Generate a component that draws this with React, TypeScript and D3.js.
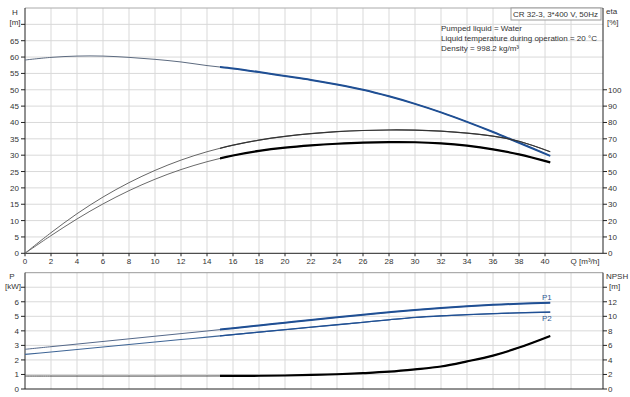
import React from 'react';
import * as d3 from 'd3';

// flow points (m³/h) shared by all curves
const flow = [0, 2, 4, 6, 8, 10, 12, 14, 16, 18, 20, 22, 24, 26, 28, 30, 32, 34, 36, 38, 40.4];

// head H [m]
const head = [59.1, 59.9, 60.3, 60.3, 59.9, 59.3, 58.5, 57.4, 56.5, 55.4, 54.2, 53.0, 51.6, 50.0, 48.0, 45.7, 43.1, 40.2, 37.1, 33.8, 29.8];
// efficiencies eta [%]
const etaUpper = [0, 12.6, 24.2, 34.4, 43.2, 50.7, 57.0, 62.1, 66.1, 69.2, 71.5, 73.2, 74.4, 75.1, 75.4, 75.3, 74.7, 73.5, 71.6, 68.5, 62.1];
const etaLower = [0, 10.8, 21.0, 30.2, 38.3, 45.3, 51.2, 56.0, 59.8, 62.6, 64.6, 66.0, 67.0, 67.7, 68.0, 67.9, 67.2, 65.8, 63.6, 60.5, 55.6];
// power [kW]
const powerP1 = [2.73, 2.91, 3.09, 3.27, 3.45, 3.63, 3.81, 3.99, 4.18, 4.37, 4.56, 4.75, 4.93, 5.1, 5.28, 5.44, 5.57, 5.69, 5.79, 5.87, 5.93];
const powerP2 = [2.38, 2.55, 2.72, 2.89, 3.06, 3.23, 3.4, 3.57, 3.74, 3.91, 4.08, 4.25, 4.42, 4.59, 4.76, 4.92, 5.03, 5.11, 5.18, 5.24, 5.29];
// NPSH [m]
const npsh = [1.78, 1.78, 1.78, 1.78, 1.78, 1.78, 1.79, 1.79, 1.8, 1.82, 1.86, 1.93, 2.03, 2.18, 2.38, 2.7, 3.1, 3.8, 4.6, 5.7, 7.3];

const qTicks = [0, 2, 4, 6, 8, 10, 12, 14, 16, 18, 20, 22, 24, 26, 28, 30, 32, 34, 36, 38, 40];
const hTicks = [0, 5, 10, 15, 20, 25, 30, 35, 40, 45, 50, 55, 60, 65];
const etaTicks = [0, 10, 20, 30, 40, 50, 60, 70, 80, 90, 100];
const pTicks = [0, 1, 2, 3, 4, 5, 6];
const npshTicks = [0, 2, 4, 6, 8, 10, 12];

const infoLines = ['Pumped liquid = Water', 'Liquid temperature during operation = 20 °C', 'Density = 998.2 kg/m³'];
const title = 'CR 32-3, 3*400 V, 50Hz';

const W = 630;
const H = 397;
const font = 'Arial, "Liberation Sans", sans-serif';
const txt = '#333';
const grid = '#d9d9d9';
const axisCol = '#222';
const blue = '#1f4f94';

const App = () => {
  // scales
  const x = d3.scaleLinear().domain([0, 44.46]).range([25, 603]);
  const yH = d3.scaleLinear().domain([0, 75]).range([253.3, 8]);
  const yEta = d3.scaleLinear().domain([0, 150]).range([253.3, 8]);
  const yP = d3.scaleLinear().domain([0, 8]).range([389, 272.7]);
  const yN = d3.scaleLinear().domain([0, 16]).range([389, 272.7]);

  const mk = (vals: number[], y: d3.ScaleLinear<number, number>) =>
    d3.line<number>().x((_, i) => x(flow[i])).y((d) => y(d)).curve(d3.curveCatmullRom.alpha(0.5))(vals) || '';

  const x0 = x.range()[0];
  const x1 = x.range()[1];
  const vGrid = d3.range(2, 43, 2);

  return (
    <svg width={W} height={H} style={{ position: 'absolute', left: 0, top: 0, background: '#fff' }} fontFamily={font}>
      <defs>
        <clipPath id="thick">
          <rect x={x(15)} y={0} width={x1 - x(15)} height={H} />
        </clipPath>
      </defs>

      {/* grids */}
      <g stroke={grid} strokeWidth={1}>
        {vGrid.map((q) => (
          <g key={q}>
            <line x1={x(q)} x2={x(q)} y1={yH(75)} y2={yH(0)} />
            <line x1={x(q)} x2={x(q)} y1={yP(8)} y2={yP(0)} />
          </g>
        ))}
        {d3.range(5, 75, 5).map((v) => (
          <line key={'h' + v} x1={x0} x2={x1} y1={yH(v)} y2={yH(v)} />
        ))}
        {d3.range(1, 8, 1).map((v) => (
          <line key={'p' + v} x1={x0} x2={x1} y1={yP(v)} y2={yP(v)} />
        ))}
      </g>
      <line x1={x0} x2={x1} y1={yH(75)} y2={yH(75)} stroke="#aaa" />
      <line x1={x0} x2={x1} y1={yP(8)} y2={yP(8)} stroke="#999" />

      {/* axes */}
      <g stroke={axisCol} strokeWidth={1}>
        <line x1={x0} x2={x0} y1={yH(75)} y2={yH(0)} />
        <line x1={x1} x2={x1} y1={yH(75)} y2={yH(0)} />
        <line x1={x0} x2={x1} y1={yH(0)} y2={yH(0)} />
        <line x1={x0} x2={x0} y1={yP(8)} y2={yP(0)} />
        <line x1={x1} x2={x1} y1={yP(8)} y2={yP(0)} />
        <line x1={x0} x2={x1} y1={yP(0)} y2={yP(0)} />
        {qTicks.map((q) => (
          <line key={'qt' + q} x1={x(q)} x2={x(q)} y1={yH(0)} y2={yH(0) + 3} />
        ))}
        {d3.range(0, 75, 5).map((v) => (
          <line key={'ht' + v} x1={x0 - 4} x2={x0} y1={yH(v)} y2={yH(v)} />
        ))}
        {etaTicks.map((v) => (
          <line key={'et' + v} x1={x1} x2={x1 + 4} y1={yEta(v)} y2={yEta(v)} />
        ))}
        {d3.range(0, 8, 1).map((v) => (
          <line key={'pt' + v} x1={x0 - 4} x2={x0} y1={yP(v)} y2={yP(v)} />
        ))}
        {d3.range(0, 16, 2).map((v) => (
          <line key={'nt' + v} x1={x1} x2={x1 + 4} y1={yN(v)} y2={yN(v)} />
        ))}
      </g>

      {/* tick labels */}
      <g fontSize={8} fill={txt}>
        {qTicks.map((q) => (
          <text key={'ql' + q} x={x(q)} y={264} textAnchor="middle">{q}</text>
        ))}
        <text x={585} y={264} textAnchor="middle">Q [m³/h]</text>
        {hTicks.map((v) => (
          <text key={'hl' + v} x={19} y={yH(v) + 3} textAnchor="end">{v}</text>
        ))}
        {etaTicks.map((v) => (
          <text key={'el' + v} x={608} y={yEta(v) + 3}>{v}</text>
        ))}
        {pTicks.map((v) => (
          <text key={'pl' + v} x={19} y={yP(v) + 3} textAnchor="end">{v}</text>
        ))}
        {npshTicks.map((v) => (
          <text key={'nl' + v} x={608} y={yN(v) + 3}>{v}</text>
        ))}
        <text x={15} y={15} textAnchor="middle">H</text>
        <text x={15} y={25} textAnchor="middle">[m]</text>
        <text x={606} y={14}>eta</text>
        <text x={607} y={25}>[%]</text>
        <text x={12} y={279} textAnchor="middle">P</text>
        <text x={13} y={289} textAnchor="middle">[kW]</text>
        <text x={606} y={279}>NPSH</text>
        <text x={609} y={289}>[m]</text>
      </g>

      {/* title + info */}
      <rect x={511} y={8} width={90} height={12} fill="#fff" stroke="#999" />
      <text x={598} y={17} fontSize={8} fill={txt} textAnchor="end">{title}</text>
      {infoLines.map((t, i) => (
        <text key={t} x={441} y={31 + i * 10} fontSize={8} fill={txt}>{t}</text>
      ))}

      {/* thin full-range curves */}
      <g fill="none">
        <path d={mk(head, yH)} stroke="#5d6b80" strokeWidth={1} />
        <path d={mk(etaUpper, yEta)} stroke="#666" strokeWidth={1} />
        <path d={mk(etaLower, yEta)} stroke="#6a6a6a" strokeWidth={1} />
        <path d={mk(powerP1, yP)} stroke="#55698a" strokeWidth={1} />
        <path d={mk(powerP2, yP)} stroke="#3e6596" strokeWidth={1.1} />
        <path d={mk(npsh, yN)} stroke="#444" strokeWidth={1} />
      </g>

      {/* thick operating-range curves */}
      <g fill="none" clipPath="url(#thick)">
        <path d={mk(head, yH)} stroke={blue} strokeWidth={2} />
        <path d={mk(etaUpper, yEta)} stroke="#333" strokeWidth={1.2} />
        <path d={mk(etaLower, yEta)} stroke="#000" strokeWidth={2.2} />
        <path d={mk(powerP1, yP)} stroke={blue} strokeWidth={2} />
        <path d={mk(powerP2, yP)} stroke={blue} strokeWidth={1.3} />
        <path d={mk(npsh, yN)} stroke="#000" strokeWidth={2.2} />
      </g>

      <text x={542} y={300} fontSize={8} fill="#2f5a94">P1</text>
      <text x={542} y={321} fontSize={8} fill="#2f5a94">P2</text>
    </svg>
  );
};

export default App;
